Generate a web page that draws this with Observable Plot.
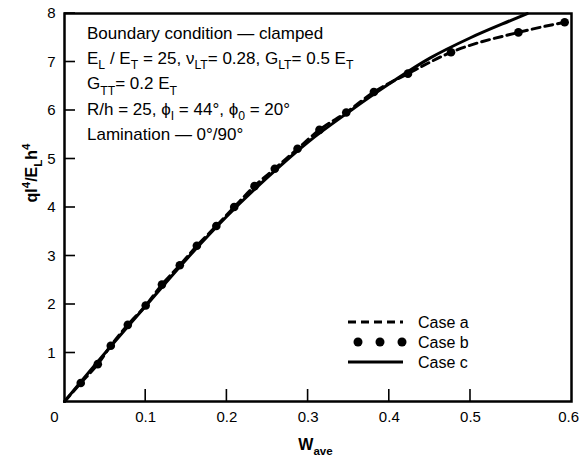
<!DOCTYPE html>
<html><head><meta charset="utf-8">
<script src="https://cdn.jsdelivr.net/npm/d3@7"></script>
<script src="https://cdn.jsdelivr.net/npm/@observablehq/plot@0.6"></script>
<style>body{margin:0;background:#fff} svg text{white-space:pre}</style>
</head><body><div id="chart"></div>
<script>
// Case b: computed points (dots)
const caseBx = [0.020,0.041,0.057,0.078,0.100,0.120,0.142,0.163,0.187,0.209,0.234,0.259,0.287,0.314,0.347,0.381,0.423,0.476,0.559,0.616];
const caseBy = [0.38,0.77,1.15,1.58,1.98,2.41,2.81,3.21,3.62,4.01,4.44,4.80,5.21,5.60,5.96,6.38,6.76,7.20,7.61,7.82];
// Case a: dashed curve
const caseAx = [0,0.020,0.041,0.057,0.078,0.100,0.120,0.142,0.163,0.187,0.209,0.234,0.259,0.287,0.314,0.347,0.381,0.423,0.476,0.559,0.616];
const caseAy = [0,0.38,0.77,1.15,1.58,1.98,2.41,2.81,3.21,3.62,4.01,4.44,4.80,5.21,5.60,5.96,6.38,6.76,7.20,7.61,7.82];
// Case c: solid curve
const caseCx = [0,0.05,0.10,0.15,0.20,0.25,0.30,0.35,0.40,0.45,0.50,0.55,0.570];
const caseCy = [0,1.00,1.97,2.93,3.82,4.62,5.35,5.97,6.55,7.08,7.50,7.86,8.00];

const xTicksMid = [0.1,0.2,0.3,0.4,0.5];
const xTickFirst = [0];
const xTickLast = [0.6];
const yTicks = [1,2,3,4,5,6,7,8];
const legendLabels = ["Case a","Case b","Case c"];
const noteLines = [
  ["Boundary condition \u2014 clamped"],
  ["E",["L","sub"]," / E",["T","sub"]," = 25, \u03BD",["LT","sub"],"= 0.28, G",["LT","sub"],"= 0.5 E",["T","sub"]],
  ["G",["TT","sub"],"= 0.2 E",["T","sub"]],
  ["R/h = 25, \u03D5",["I","sub"]," = 44\u00B0, \u03D5",["0","sub"]," = 20\u00B0"],
  ["Lamination \u2014 0\u00B0/90\u00B0"]
];
const yLabelSegs = ["ql",["4","sup"],"/E",["L","sub"],"h",["4","sup"]];
const xLabelSegs = ["W",["ave","sub"]];

const FONT = "'Liberation Sans', Arial, sans-serif";

const caseA = caseAx.map((x,i)=>({x, y: caseAy[i]}));
const caseB = caseBx.map((x,i)=>({x, y: caseBy[i]}));
const caseC = caseCx.map((x,i)=>({x, y: caseCy[i]}));

function rich(parent, x, y, segs, size) {
  const t = parent.append("text").attr("x", x).attr("y", y).attr("font-size", size);
  let shift = 0;
  for (const s of segs) {
    const [str, kind] = typeof s === "string" ? [s, null] : s;
    const target = kind === "sub" ? size*0.3 : kind === "sup" ? -size*0.42 : 0;
    const ts = t.append("tspan").text(str).attr("dy", target - shift);
    if (kind) ts.attr("font-size", size*0.72);
    shift = target;
  }
  return t;
}

const overlay = (index, scales, values, dims) => {
  const g = d3.create("svg:g").attr("font-family", FONT).attr("fill", "black").attr("text-anchor", "start");
  const L = dims.marginLeft, T = dims.marginTop;
  const B = dims.height - dims.marginBottom, R = dims.width - dims.marginRight;
  // inward tick marks from the scales
  xTicksMid.forEach(v => g.append("line").attr("x1", scales.x(v)).attr("x2", scales.x(v))
    .attr("y1", B).attr("y2", B - 12).attr("stroke", "black").attr("stroke-width", 1.6));
  yTicks.forEach(v => g.append("line").attr("x1", L).attr("x2", L + 11).attr("y1", scales.y(v)).attr("y2", scales.y(v))
    .attr("stroke", "black").attr("stroke-width", 1.6));
  noteLines.forEach((segs, i) => rich(g, L + 23, T + 26 + i*25.2, segs, 17));
  // legend
  const rows = [B - 79, B - 59, B - 39];
  const lx0 = L + 284, lx1 = L + 339;
  g.append("line").attr("x1", lx0).attr("x2", lx1).attr("y1", rows[0]).attr("y2", rows[0])
    .attr("stroke", "black").attr("stroke-width", 3).attr("stroke-dasharray", "8,5");
  [lx0 + 10, lx0 + 32, lx0 + 54].forEach(cx =>
    g.append("circle").attr("cx", cx).attr("cy", rows[1]).attr("r", 4.5));
  g.append("line").attr("x1", lx0).attr("x2", lx1).attr("y1", rows[2]).attr("y2", rows[2])
    .attr("stroke", "black").attr("stroke-width", 3);
  legendLabels.forEach((lab, i) => g.append("text").attr("x", L + 354).attr("y", rows[i] + 6)
    .attr("font-size", 16).text(lab));
  // axis labels
  rich(g, 0, 0, yLabelSegs, 16).attr("font-weight", "bold")
    .attr("text-anchor", "middle").attr("transform", `translate(37,${T + 160}) rotate(-90)`);
  rich(g, (L + R)/2 - 2, B + 49, xLabelSegs, 16).attr("font-weight", "bold").attr("text-anchor", "middle");
  return g.node();
};

const chart = Plot.plot({
  width: 582, height: 458,
  marginLeft: 64, marginRight: 11, marginTop: 13, marginBottom: 57,
  x: {domain: [0, 0.6244]},
  y: {domain: [0, 8]},
  style: {fontFamily: FONT, fontSize: "15px", color: "black", background: "white"},
  marks: [
    Plot.axisX({ticks: xTicksMid, tickSize: 0, tickPadding: 10, tickFormat: d => d.toFixed(1), label: null}),
    Plot.axisX({ticks: xTickFirst, tickSize: 0, tickPadding: 10, tickFormat: d => "0", label: null, dx: -10}),
    Plot.axisX({ticks: xTickLast, tickSize: 0, tickPadding: 10, tickFormat: d => d.toFixed(1), label: null, dx: 17}),
    Plot.axisY({ticks: yTicks, tickSize: 0, tickPadding: 9, tickFormat: d => String(d), label: null}),
    Plot.line(caseC, {x: "x", y: "y", stroke: "black", strokeWidth: 3, curve: "monotone-x"}),
    Plot.line(caseA, {x: "x", y: "y", stroke: "black", strokeWidth: 3, strokeDasharray: "8,5", curve: "monotone-x"}),
    Plot.dot(caseB, {x: "x", y: "y", r: 4.3, fill: "black", stroke: null}),
    Plot.frame({stroke: "black", strokeWidth: 2.5}),
    overlay
  ]
});
document.getElementById("chart").append(chart);
</script>
</body></html>
